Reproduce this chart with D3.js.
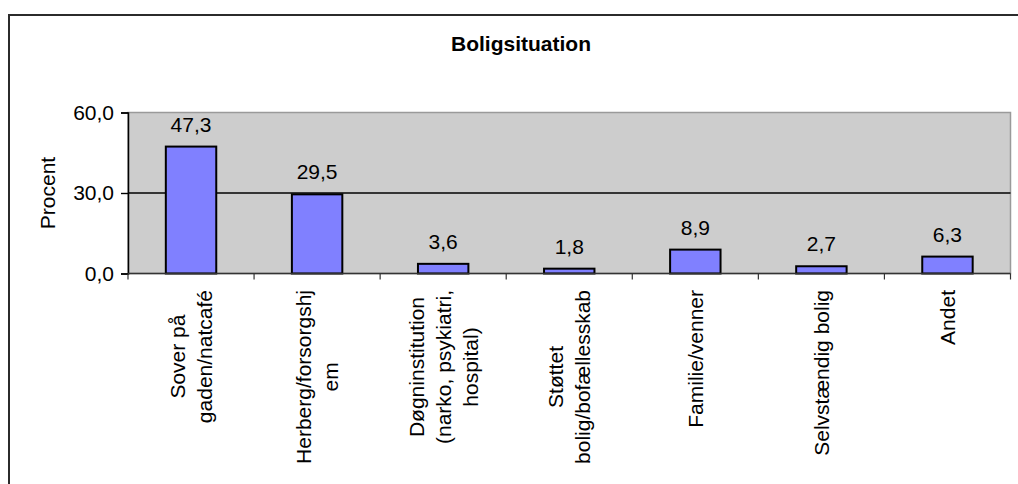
<!DOCTYPE html>
<html>
<head>
<meta charset="utf-8">
<script src="https://cdn.jsdelivr.net/npm/d3@7/dist/d3.min.js"></script>
<style>
  html,body{margin:0;padding:0;background:#fff;}
  svg{display:block;font-family:"Liberation Sans",Arial,sans-serif;}
</style>
</head>
<body>
<svg id="chart" width="1018" height="484"></svg>
<script>
// Boligsituation — Excel-style column chart
const categories = [
  ['Sover på','gaden/natcafé'],
  ['Herberg/forsorgshj','em'],
  ['Døgninstitution','(narko, psykiatri,','hospital)'],
  ['Støttet','bolig/bofællesskab'],
  ['Familie/venner'],
  ['Selvstændig bolig'],
  ['Andet']
];
const values = [47.3, 29.5, 3.6, 1.8, 8.9, 2.7, 6.3];
const yTicks = [0, 30, 60];
const title = 'Boligsituation';
const yTitle = 'Procent';

const fmt = v => v.toFixed(1).replace('.', ',');
const FS = 21;

const svg = d3.select('#chart');
const L=128, R=1010.5, T=112.5, B=273.5;

// outer chart border (runs off right/bottom edge)
svg.append('rect').attr('x',9).attr('y',15).attr('width',1040).attr('height',500)
   .attr('fill','#fff').attr('stroke','#2b2b2b').attr('stroke-width',2);

const x = d3.scaleBand().domain(d3.range(categories.length)).range([L,R]).paddingInner(0.6).paddingOuter(0.3);
const xb = d3.scaleBand().domain(d3.range(categories.length)).range([L,R]);
const y = d3.scaleLinear().domain([0,60]).range([B,T]);

// plot area
svg.append('rect').attr('x',L).attr('y',T).attr('width',R-L).attr('height',B-T)
   .attr('fill','#cdcdcd').attr('stroke','#9a9a9a').attr('stroke-width',1.5);

// gridlines
svg.append('g').selectAll('line').data(yTicks.filter(d=>d>0 && d<60)).join('line')
   .attr('x1',L).attr('x2',R).attr('y1',d=>y(d)).attr('y2',d=>y(d))
   .attr('stroke','#000').attr('stroke-width',1.4);

// bars
svg.append('g').selectAll('rect').data(values).join('rect')
   .attr('x',(d,i)=>x(i)).attr('width',x.bandwidth())
   .attr('y',d=>y(d)).attr('height',d=>B-y(d))
   .attr('fill','#8080ff').attr('stroke','#000').attr('stroke-width',2);

// value labels
svg.append('g').selectAll('text').data(values).join('text')
   .attr('x',(d,i)=>x(i)+x.bandwidth()/2).attr('y',d=>y(d)-15)
   .attr('text-anchor','middle').attr('font-size',FS).attr('fill','#000')
   .text(fmt);

// y axis
const yAxis = d3.axisLeft(y).tickValues(yTicks).tickSize(7).tickPadding(7).tickFormat(fmt);
const gy = svg.append('g').attr('transform',`translate(${L},0)`).call(yAxis);
gy.select('.domain').attr('stroke','#000').attr('stroke-width',1.5);
gy.selectAll('line').attr('stroke','#000').attr('stroke-width',1.4);
gy.selectAll('text').attr('font-size',FS).attr('font-family','"Liberation Sans",Arial,sans-serif').attr('fill','#000');

// x axis (ticks between categories)
svg.append('line').attr('x1',L).attr('x2',R).attr('y1',B).attr('y2',B)
   .attr('stroke','#333').attr('stroke-width',1.5);
svg.append('g').selectAll('line').data(d3.range(categories.length+1)).join('line')
   .attr('x1',i=>i<categories.length?xb(i):R).attr('x2',i=>i<categories.length?xb(i):R)
   .attr('y1',B).attr('y2',B+6).attr('stroke','#333').attr('stroke-width',1.2);

// category labels, rotated, block top-aligned below axis
const lh = 27;
categories.forEach((lines,i)=>{
  const cx = xb(i)+xb.bandwidth()/2;
  const g = svg.append('g');
  const texts = lines.map(s=>g.append('text').attr('font-size',FS).attr('fill','#000')
      .attr('text-anchor','middle').text(s));
  const maxLen = d3.max(texts, t=>t.node().getComputedTextLength());
  const cy = 290 + maxLen/2;
  texts.forEach((t,k)=>{
    const lx = cx + (k-(lines.length-1)/2)*lh + 7.5;
    t.attr('transform',`translate(${lx},${cy}) rotate(-90)`);
  });
});

// titles
svg.append('text').attr('x',521).attr('y',51).attr('text-anchor','middle')
   .attr('font-size',21).attr('font-weight','bold').attr('fill','#000').text(title);
svg.append('text').attr('transform',`translate(55,${(T+B)/2}) rotate(-90)`)
   .attr('text-anchor','middle').attr('font-size',FS).attr('fill','#000').text(yTitle);
</script>
</body>
</html>
